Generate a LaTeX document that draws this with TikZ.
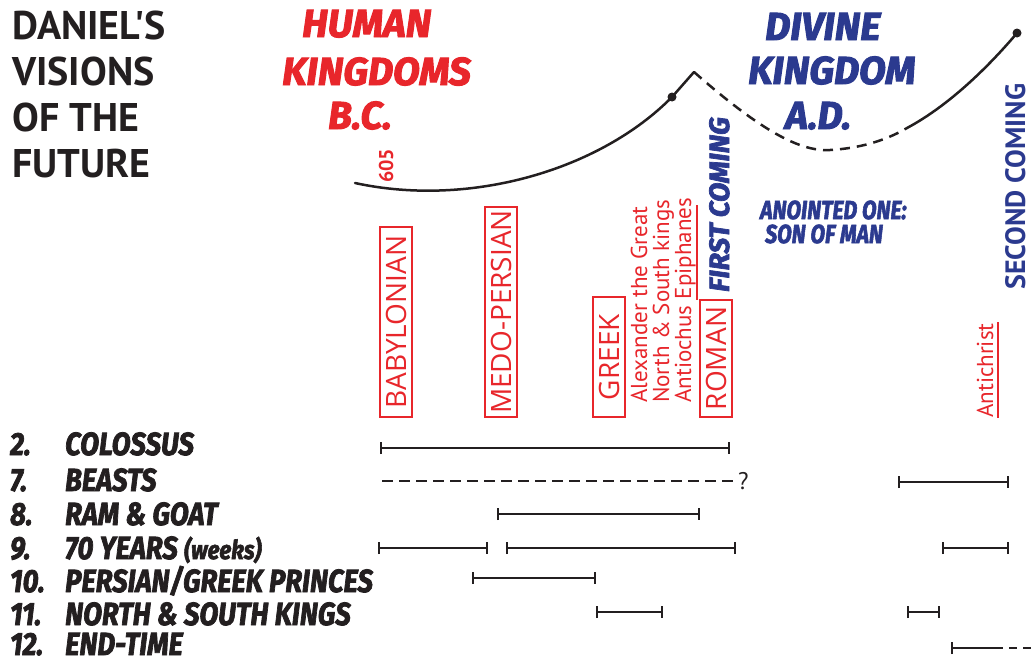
\documentclass[tikz,border=0pt]{standalone}
\usepackage{fontspec}
\usetikzlibrary{arrows.meta}
\newfontfamily\titlef{PT Sans}
\newfontfamily\comicf{Fira Sans}[BoldItalicFeatures={FakeBold=2.5}]
\newfontfamily\boxf{Open Sans}
\newfontfamily\smallf{PT Sans}
\definecolor{dred}{HTML}{E8262B}
\definecolor{dblue}{HTML}{2B3A8F}
\definecolor{ink}{HTML}{231F20}
\newcommand\cw[2][0.86]{\scalebox{#1}[1]{#2}}
\tikzset{
  titletxt/.style={font=\titlef\bfseries\fontsize{40}{40}\selectfont, text=ink, inner sep=0pt, anchor=base west},
  headred/.style={font=\comicf\bfseries\itshape\fontsize{39}{39}\selectfont, text=dred, inner sep=0pt, anchor=base west},
  headblue/.style={font=\comicf\bfseries\itshape\fontsize{39}{39}\selectfont, text=dblue, inner sep=0pt, anchor=base west},
  rowtxt/.style={font=\comicf\bfseries\itshape\fontsize{32}{32}\selectfont, text=ink, inner sep=0pt, anchor=base west},
  anointed/.style={font=\comicf\bfseries\itshape\fontsize{26}{26}\selectfont, text=dblue, inner sep=0pt, anchor=base west},
  firstc/.style={font=\comicf\bfseries\itshape\fontsize{28}{28}\selectfont, text=dblue, inner sep=0pt, anchor=base west, rotate=90},
  secondc/.style={font=\titlef\bfseries\fontsize{28}{28}\selectfont, text=dblue, inner sep=0pt, anchor=base west, rotate=90},
  redbox/.style={draw=dred, line width=1.3pt, text=dred, rotate=90, inner sep=0pt, font=\boxf\fontsize{28}{28}\selectfont, minimum height=32pt},
  redsmall/.style={font=\smallf\fontsize{23}{23}\selectfont, text=dred, inner sep=0pt, anchor=base west, rotate=90},
  yeartxt/.style={font=\titlef\bfseries\fontsize{20}{20}\selectfont, text=dred, inner sep=0pt, anchor=base west, rotate=90},
  tl/.style={draw=ink, line width=2.3pt, arrows={Bar[width=12pt]-Bar[width=12pt]}},
  tlopen/.style={draw=ink, line width=2.3pt, arrows={Bar[width=12pt]-}},
  dashline/.style={draw=ink, line width=2.3pt, dash pattern=on 11pt off 6pt},
  curve/.style={draw=ink, line width=2.5pt},
}
\begin{document}
\begin{tikzpicture}[x=1pt,y=-1pt]
\useasboundingbox (0,0) rectangle (1032,662);
\fill[white] (0,0) rectangle (1032,662);

% title
\node[titletxt] (t1) at (12,39) {DANIEL'S};
\node[titletxt] (t2) at (12,85) {VISIONS};
\node[titletxt] (t3) at (12,131) {OF THE};
\node[titletxt] (t4) at (12,177) {FUTURE};

% headers
\node[headred] (h1) at (302,37) {HUMAN};
\node[headred] (h2) at (282,85) {KINGDOMS};
\node[headred] (h3) at (328,129) {B.C.};
\node[headblue] (d1) at (765,40) {DIVINE};
\node[headblue] (d2) at (748,84) {KINGDOM};
\node[headblue] (d3) at (785,129) {A.D.};

% top curve
\coordinate (c0) at (355,183);
\coordinate (dot1) at (672,97);
\coordinate (peak) at (694,72);
\coordinate (low) at (830,150);
\coordinate (c3) at (907,128);
\coordinate (dot2) at (1017,33);
\draw[curve, line cap=round] (c0) .. controls (470,208) and (600,170) .. (dot1) -- (peak);
\draw[curve, dash pattern=on 10pt off 7pt] (peak) .. controls (760,130) and (800,152) .. (low) .. controls (865,148) and (890,138) .. (c3);
\draw[curve, line cap=round] (c3) .. controls (950,105) and (990,65) .. (dot2);
\fill[ink] (dot1) circle (4.5pt);
\fill[ink] (dot2) circle (4.5pt);

\node[yeartxt] (y605) at (393,183) {605};

% vertical labels
\node[firstc] (first) at (729,292) {FIRST COMING};
\node[secondc] (second) at (1025,290) {SECOND COMING};
\node[anointed] (an1) at (760,219) {\cw[0.82]{ANOINTED ONE:}};
\node[anointed] (an2) at (765,243) {\cw[0.82]{SON OF MAN}};

% boxed kingdoms
\node[redbox, minimum width=190pt] (bab) at (396,322) {BABYLONIAN};
\node[redbox, minimum width=210pt] (med) at (501,312) {MEDO-PERSIAN};
\node[redbox, minimum width=120pt] (gre) at (609,357) {GREEK};
\node[redbox, minimum width=117pt] (rom) at (716,358.5) {ROMAN};
\node[redsmall] (alex) at (647,403) {Alexander the Great};
\node[redsmall] (nsk) at (669,403) {North \& South kings};
\node[redsmall] (anti) at (691,403) {Antiochus Epiphanes};
\draw[dred, line width=1.2pt] (697,205) -- (697,300);
\node[redsmall] (antic) at (993,418) {Antichrist};
\draw[dred, line width=1.2pt] (998,322) -- (998,418);

% row labels
\node[rowtxt] (n2) at (10,455) {\cw{2.}};
\node[rowtxt] (l2) at (65,455) {\cw{COLOSSUS}};
\node[rowtxt] (n7) at (10,491) {\cw{7.}};
\node[rowtxt] (l7) at (65,491) {\cw{BEASTS}};
\node[rowtxt] (n8) at (10,525) {\cw{8.}};
\node[rowtxt] (l8) at (65,525) {\cw{RAM \& GOAT}};
\node[rowtxt] (n9) at (10,559) {\cw{9.}};
\node[rowtxt] (l9) at (65,559) {\cw{70 YEARS {\fontsize{26}{26}\selectfont(weeks)}}};
\node[rowtxt] (n10) at (10,592) {\cw{10.}};
\node[rowtxt] (l10) at (65,592) {\cw{PERSIAN/GREEK PRINCES}};
\node[rowtxt] (n11) at (10,625) {\cw{11.}};
\node[rowtxt] (l11) at (65,625) {\cw{NORTH \& SOUTH KINGS}};
\node[rowtxt] (n12) at (10,655) {\cw{12.}};
\node[rowtxt] (l12) at (65,655) {\cw{END-TIME}};

% bars
\coordinate (a1) at (380,448); \coordinate (b1) at (730,448);
\draw[tl] (a1) -- (b1);
\coordinate (a2) at (382,481); \coordinate (b2) at (734,481);
\draw[dashline] (a2) -- (b2);
\node[font=\smallf\fontsize{24}{24}\selectfont, text=ink, inner sep=0pt, anchor=base west] (q) at (738,489) {?};
\coordinate (a2r) at (898,482); \coordinate (b2r) at (1009,482);
\draw[tl] (a2r) -- (b2r);
\coordinate (a3) at (497,514); \coordinate (b3) at (700,514);
\draw[tl] (a3) -- (b3);
\coordinate (a4) at (378,548); \coordinate (b4) at (488,548);
\draw[tl] (a4) -- (b4);
\coordinate (a4b) at (506,548); \coordinate (b4b) at (736,548);
\draw[tl] (a4b) -- (b4b);
\coordinate (a4r) at (942,548); \coordinate (b4r) at (1009,548);
\draw[tl] (a4r) -- (b4r);
\coordinate (a5) at (472,578); \coordinate (b5) at (596,578);
\draw[tl] (a5) -- (b5);
\coordinate (a6) at (596,612); \coordinate (b6) at (663,612);
\draw[tl] (a6) -- (b6);
\coordinate (a6r) at (907,612); \coordinate (b6r) at (940,612);
\draw[tl] (a6r) -- (b6r);
\coordinate (a7) at (951,648); \coordinate (m7) at (1003,648); \coordinate (m7b) at (1009,648); \coordinate (b7) at (1034,648);
\draw[tlopen] (a7) -- (m7);
\draw[dashline, dash pattern=on 8pt off 6pt] (m7b) -- (b7);
\end{tikzpicture}
\end{document}
